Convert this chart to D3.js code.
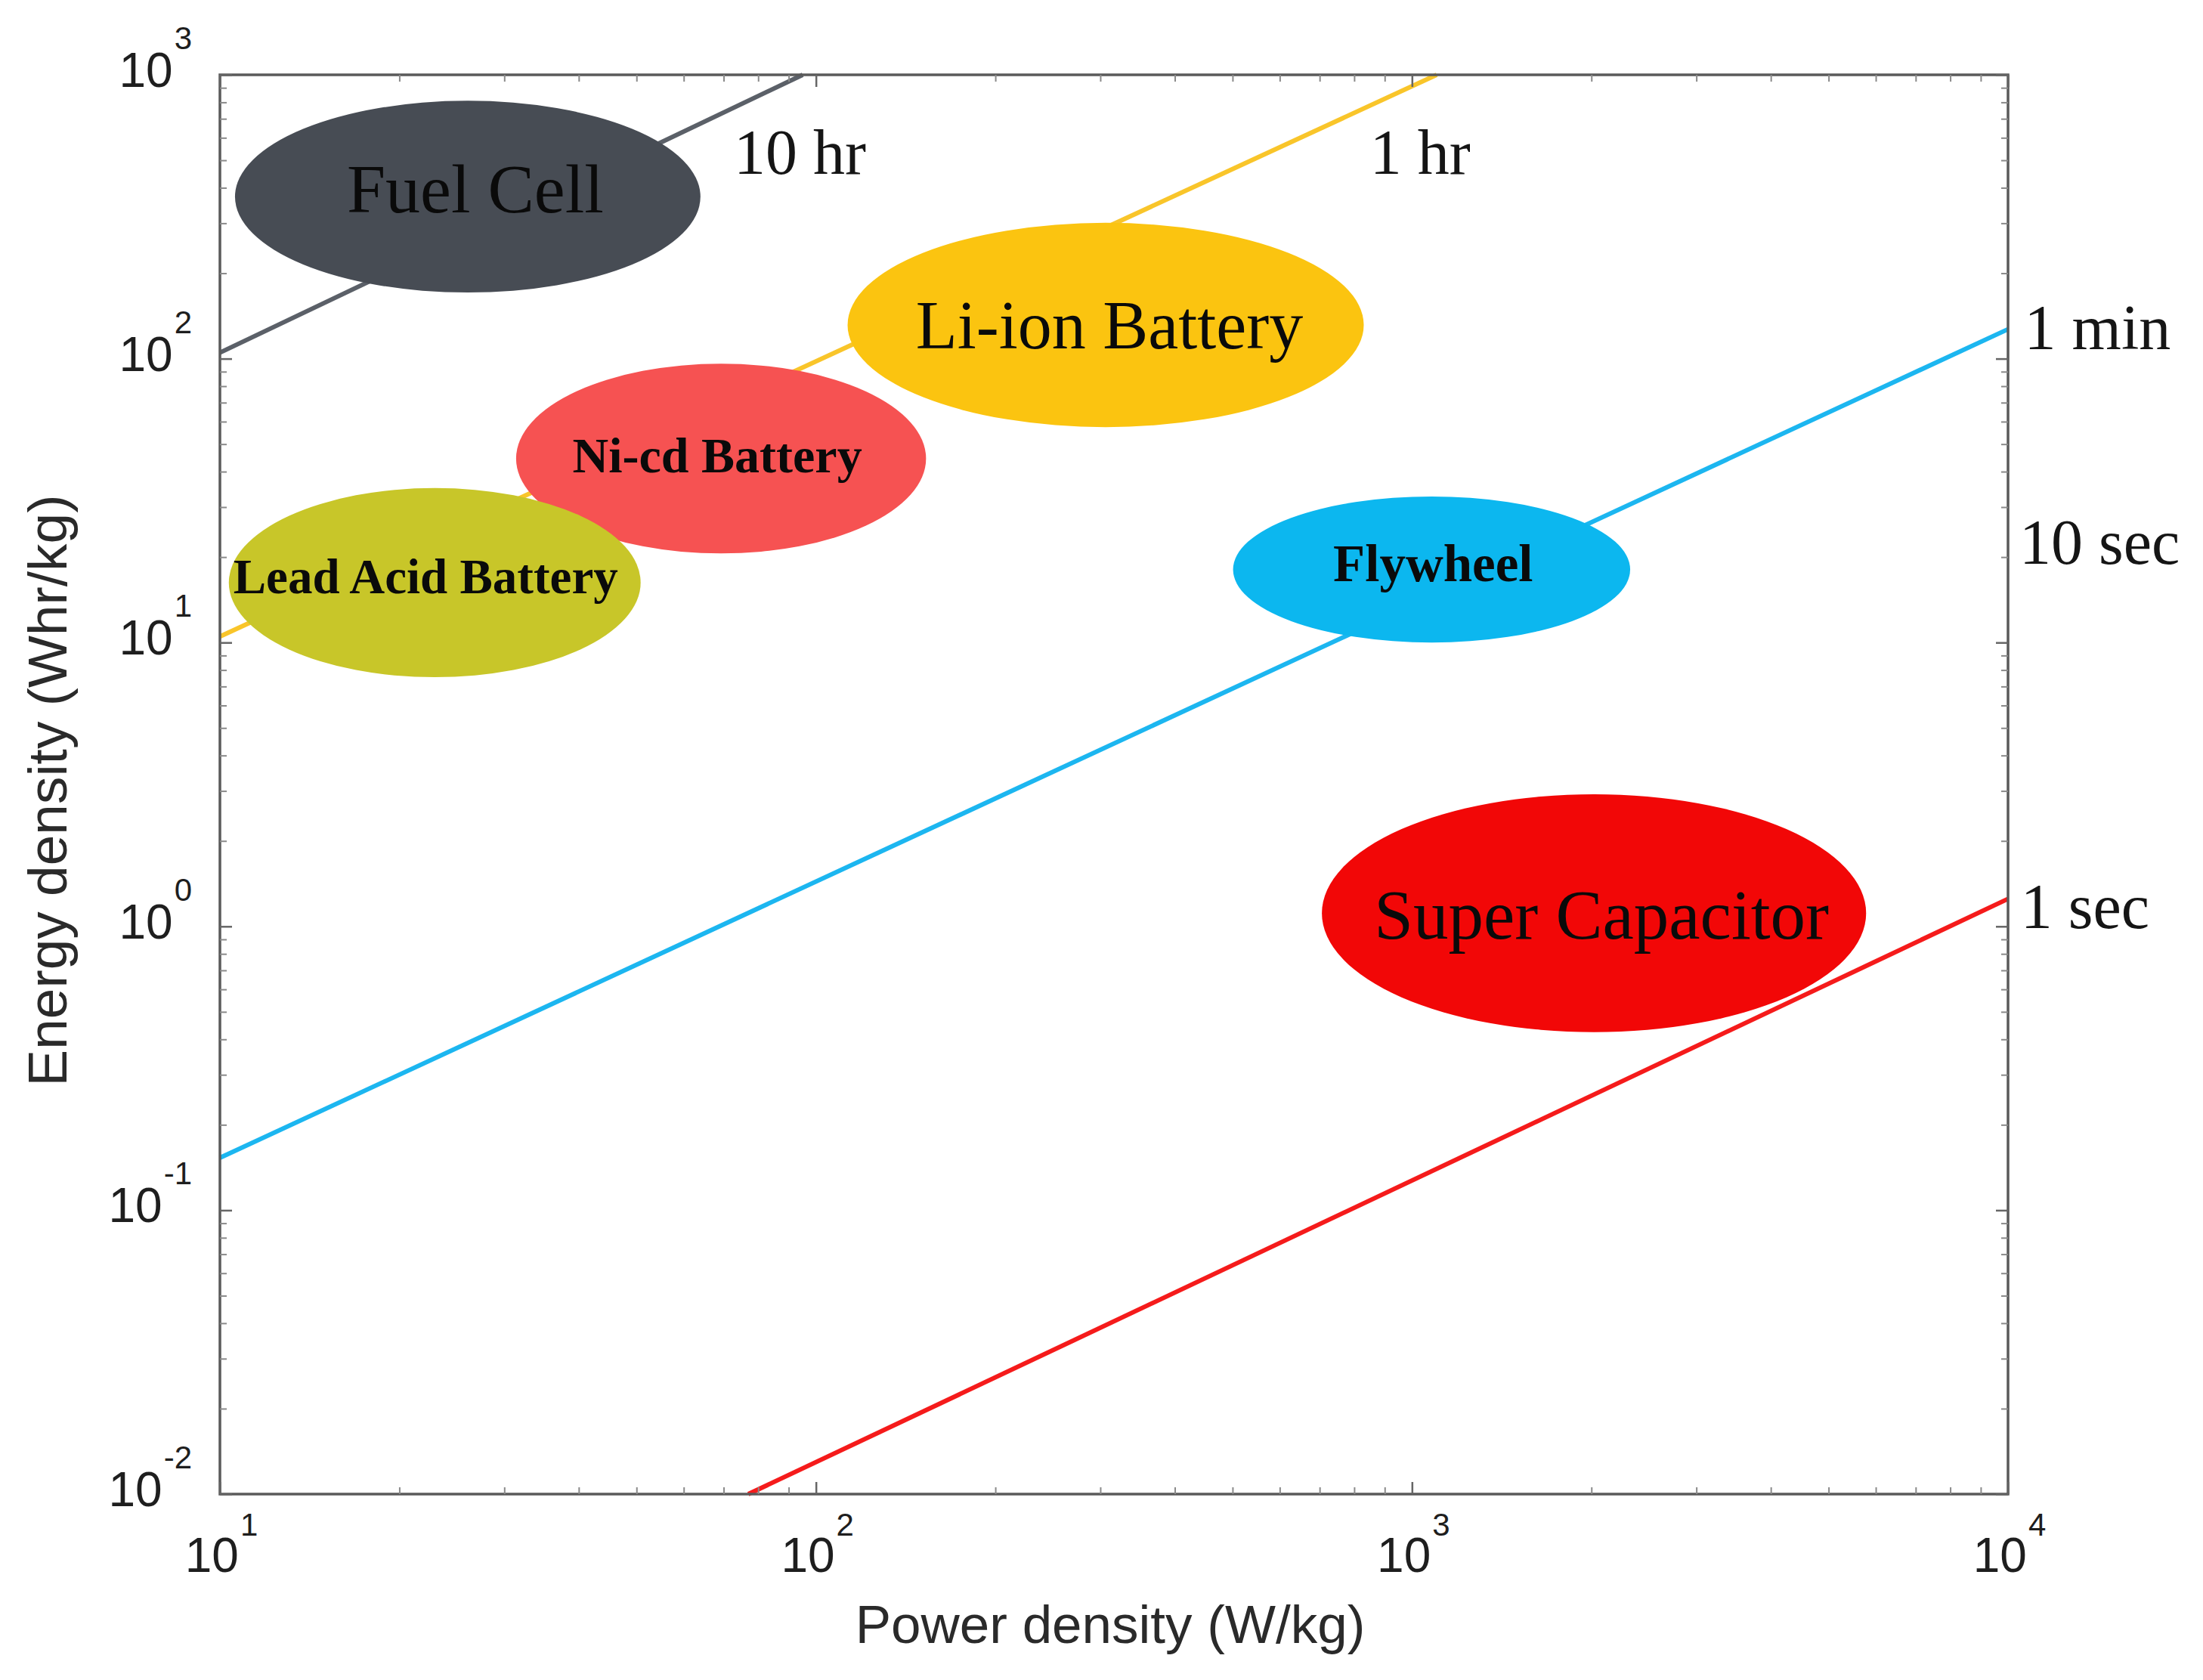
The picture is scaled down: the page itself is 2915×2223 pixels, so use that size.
<!DOCTYPE html>
<html>
<head>
<meta charset="utf-8">
<script src="https://cdn.jsdelivr.net/npm/d3@7"></script>
<style>
  html, body { margin: 0; padding: 0; background: #fff; }
  svg { display: block; }
</style>
</head>
<body>
<svg id="chart" width="2915" height="2223"></svg>
<script>
(function () {
// ---------- data ----------
const xTickValues = [10, 100, 1000, 10000];
const xTickExponents = ["1", "2", "3", "4"];
const yTickValues = [0.01, 0.1, 1, 10, 100, 1000];
const yTickExponents = ["-2", "-1", "0", "1", "2", "3"];

// storage technologies (regions: power range W/kg, energy range Wh/kg)
const technologies = ["Fuel Cell", "Li-ion Battery", "Ni-cd Battery", "Lead Acid Battery", "Flywheel", "Super Capacitor"];
const powerMin  = [10.6, 113, 31.4, 10.35, 501, 706];
const powerMax  = [64, 830, 153, 50.8, 2323, 5780];
const energyMin = [171, 57.4, 20.6, 7.55, 10, 0.424];
const energyMax = [810, 301, 96, 35, 32.7, 2.92];
const techColors = ["#474c54", "#fbc410", "#f65252", "#c8c629", "#0cb7ef", "#f20707"];
const techBold = [false, false, true, true, true, false];
const techFontSize = [92, 90, 66, 65, 69, 93];
const techTextDx = [10, 5, -5, -12, 2, 10];
const techTextDy = [-10, 0, -4, -8, -8, 2];

// constant discharge-time lines
const durations = ["10 hr", "1 hr", "1 min", "1 sec"];
const lineP0 = [10, 10, 10, 77];
const lineE0 = [105, 10.5, 0.153, 0.01];
const lineP1 = [95, 1100, 10000, 10000];
const lineE1 = [1000, 1000, 127, 1.25];
const lineColors = ["#5b6068", "#f9c52a", "#1cb6f0", "#f51b1b"];

// discharge-time labels
const timeLabels = ["10 hr", "1 hr", "1 min", "10 sec", "1 sec"];
const timeLabelP = [72.8, 850, 10650, 10450, 10500];
const timeLabelE = [448, 448, 108, 18.9, 0.987];

// ---------- layout ----------
const svg = d3.select("#chart");
const mLeft = 291, mRight = 2657, mTop = 99, mBottom = 1977;

const x = d3.scaleLog().domain([10, 10000]).range([mLeft, mRight]);
const y = d3.scaleLog().domain([0.01, 1000]).range([mBottom, mTop]);

const sans = "'Liberation Sans', Arial, Helvetica, sans-serif";
const serif = "'Liberation Serif', 'Times New Roman', serif";

// lines
const lineGen = d3.line().x(d => x(d[0])).y(d => y(d[1]));
svg.append("g").selectAll("path")
  .data(durations.map((d, i) => ({name: d, pts: [[lineP0[i], lineE0[i]], [lineP1[i], lineE1[i]]], color: lineColors[i]})))
  .join("path")
  .attr("d", d => lineGen(d.pts))
  .attr("fill", "none")
  .attr("stroke", d => d.color)
  .attr("stroke-width", 6);

// ellipses
const tech = technologies.map((name, i) => ({
  name, p0: powerMin[i], p1: powerMax[i], e0: energyMin[i], e1: energyMax[i],
  color: techColors[i], bold: techBold[i], fs: techFontSize[i], dx: techTextDx[i], dy: techTextDy[i]
}));
const tg = svg.append("g").selectAll("g").data(tech).join("g");
tg.append("ellipse")
  .attr("cx", d => (x(d.p0) + x(d.p1)) / 2)
  .attr("cy", d => (y(d.e0) + y(d.e1)) / 2)
  .attr("rx", d => (x(d.p1) - x(d.p0)) / 2)
  .attr("ry", d => (y(d.e0) - y(d.e1)) / 2)
  .attr("fill", d => d.color);
tg.append("text")
  .attr("x", d => (x(d.p0) + x(d.p1)) / 2 + d.dx)
  .attr("y", d => (y(d.e0) + y(d.e1)) / 2 + d.dy)
  .attr("text-anchor", "middle")
  .attr("dominant-baseline", "central")
  .attr("font-family", serif)
  .attr("font-size", d => d.fs)
  .attr("font-weight", d => d.bold ? "bold" : "normal")
  .attr("fill", "#0a0a0a")
  .text(d => d.name);

// time labels
svg.append("g").selectAll("text")
  .data(timeLabels.map((t, i) => ({t, p: timeLabelP[i], e: timeLabelE[i]})))
  .join("text")
  .attr("x", d => x(d.p))
  .attr("y", d => y(d.e))
  .attr("font-family", serif)
  .attr("font-size", 84)
  .attr("fill", "#151515")
  .text(d => d.t);

// frame
svg.append("rect")
  .attr("x", mLeft).attr("y", mTop)
  .attr("width", mRight - mLeft).attr("height", mBottom - mTop)
  .attr("fill", "none").attr("stroke", "#5a5a5a").attr("stroke-width", 3.5);

// minor/major inward ticks using d3 axes
function minorVals(domain) {
  const out = [];
  for (let e = Math.round(Math.log10(domain[0])); e < Math.round(Math.log10(domain[1])); e++) {
    for (let k = 2; k <= 9; k++) out.push(k * Math.pow(10, e));
  }
  return out;
}
const xMinor = minorVals(x.domain());
const yMinor = minorVals(y.domain());

function tickStyle(color, w) {
  return g => {
    g.select(".domain").remove();
    g.selectAll(".tick line").attr("stroke", color).attr("stroke-width", w);
    g.selectAll(".tick text").remove();
  };
}
const minorStyle = tickStyle("#8a8a8a", 2);
const majorStyle = tickStyle("#666", 2.5);
svg.append("g").attr("transform", `translate(0,${mBottom})`)
  .call(d3.axisTop(x).tickValues(xMinor).tickSize(9)).call(minorStyle);
svg.append("g").attr("transform", `translate(0,${mTop})`)
  .call(d3.axisBottom(x).tickValues(xMinor).tickSize(9)).call(minorStyle);
svg.append("g").attr("transform", `translate(0,${mBottom})`)
  .call(d3.axisTop(x).tickValues(xTickValues).tickSize(16)).call(majorStyle);
svg.append("g").attr("transform", `translate(0,${mTop})`)
  .call(d3.axisBottom(x).tickValues(xTickValues).tickSize(16)).call(majorStyle);
svg.append("g").attr("transform", `translate(${mLeft},0)`)
  .call(d3.axisRight(y).tickValues(yMinor).tickSize(9)).call(minorStyle);
svg.append("g").attr("transform", `translate(${mRight},0)`)
  .call(d3.axisLeft(y).tickValues(yMinor).tickSize(9)).call(minorStyle);
svg.append("g").attr("transform", `translate(${mLeft},0)`)
  .call(d3.axisRight(y).tickValues(yTickValues).tickSize(16)).call(majorStyle);
svg.append("g").attr("transform", `translate(${mRight},0)`)
  .call(d3.axisLeft(y).tickValues(yTickValues).tickSize(16)).call(majorStyle);

// tick labels (10^n)
const xl = svg.append("g").selectAll("text")
  .data(xTickValues.map((v, i) => ({v, ex: xTickExponents[i]})))
  .join("text")
  .attr("x", d => x(d.v) + 2)
  .attr("y", 2080)
  .attr("text-anchor", "middle")
  .attr("font-family", sans)
  .attr("font-size", 64)
  .attr("fill", "#1e1e1e");
xl.append("tspan").text("10");
xl.append("tspan").attr("font-size", 42).attr("dx", 2).attr("dy", -48).text(d => d.ex);

const yl = svg.append("g").selectAll("text")
  .data(yTickValues.map((v, i) => ({v, ex: yTickExponents[i]})))
  .join("text")
  .attr("x", 254)
  .attr("y", d => y(d.v) + 16)
  .attr("text-anchor", "end")
  .attr("font-family", sans)
  .attr("font-size", 64)
  .attr("fill", "#1e1e1e");
yl.append("tspan").text("10");
yl.append("tspan").attr("font-size", 42).attr("dx", 2).attr("dy", -50).text(d => d.ex);

// axis titles
svg.append("text")
  .attr("x", (mLeft + mRight) / 2 - 5)
  .attr("y", 2174)
  .attr("text-anchor", "middle")
  .attr("font-family", sans)
  .attr("font-size", 71)
  .attr("fill", "#2a2a2a")
  .text("Power density (W/kg)");

svg.append("text")
  .attr("transform", `translate(88,${(mTop + mBottom) / 2 + 8}) rotate(-90)`)
  .attr("text-anchor", "middle")
  .attr("font-family", sans)
  .attr("font-size", 73)
  .attr("fill", "#2a2a2a")
  .text("Energy density (Whr/kg)");
})();
</script>
</body>
</html>
